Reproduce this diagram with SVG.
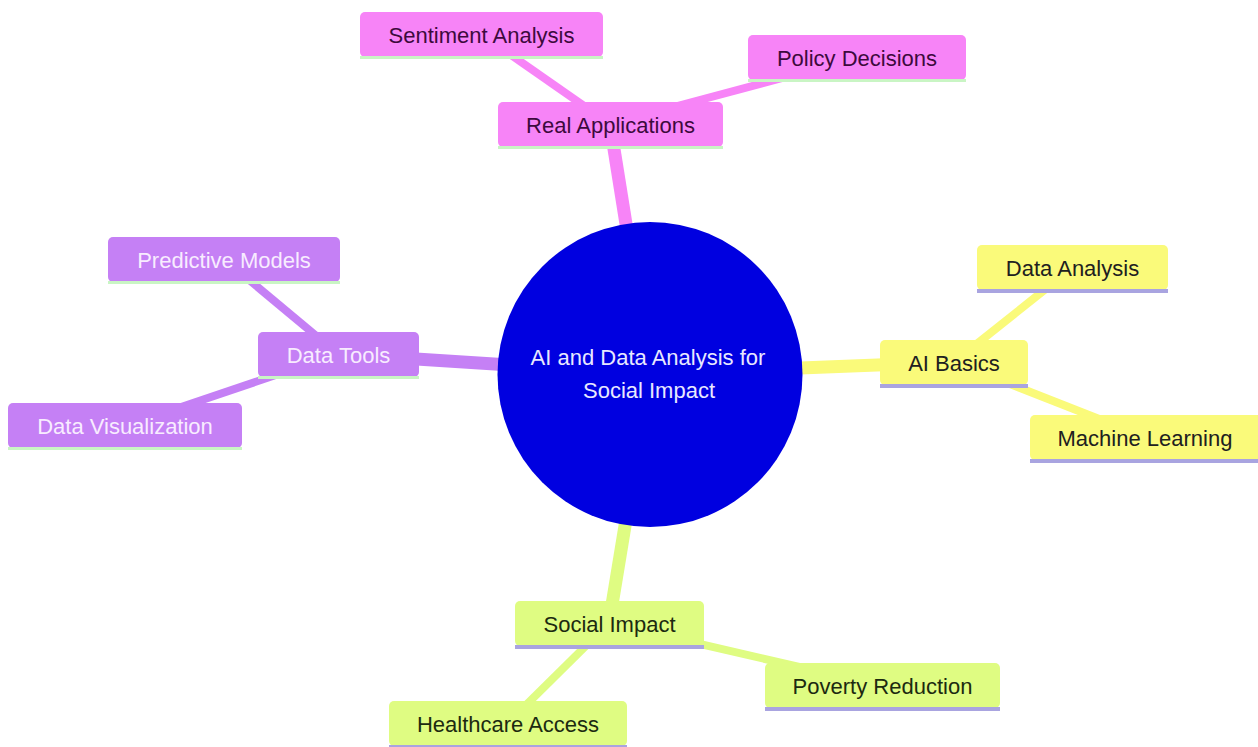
<svg xmlns="http://www.w3.org/2000/svg" width="1258" height="747" viewBox="0 0 1258 747">
<style>
text{font-family:"Liberation Sans",Arial,sans-serif;font-size:22px;text-anchor:middle}
.e1{stroke-width:13;fill:none;stroke-linecap:butt}
.e2{stroke-width:8;fill:none;stroke-linecap:butt}
.pk{stroke:#f784f7}
.pu{stroke:#c580f5}
.ye{stroke:#fafa7a}
.gr{stroke:#dffc82}
.npk{fill:#f784f7}
.npu{fill:#c580f5}
.nye{fill:#fafa7a}
.ngr{fill:#dffc82}
.lg{fill:#c9f5c4}
.ll{fill:#a9a4e0}
.tpk{fill:#3d0a3d}
.tpu{fill:#f8ecff}
.tye{fill:#202020}
.tgr{fill:#1c2a10}
</style>
<rect width="1258" height="747" fill="#ffffff"/>
<g id="connectors">
<line class="e1 pk" x1="650" y1="374" x2="610" y2="124"/>
<line class="e1 pu" x1="650" y1="374" x2="338" y2="354"/>
<line class="e1 ye" x1="650" y1="374" x2="954" y2="362"/>
<line class="e1 gr" x1="650" y1="374" x2="609" y2="623"/>
<line class="e2 pk" x1="610" y1="124" x2="481" y2="34"/>
<line class="e2 pk" x1="610" y1="124" x2="857" y2="58"/>
<line class="e2 pu" x1="338" y1="354" x2="224" y2="259"/>
<line class="e2 pu" x1="338" y1="354" x2="125" y2="426"/>
<line class="e2 ye" x1="954" y1="362" x2="1072" y2="268"/>
<line class="e2 ye" x1="954" y1="362" x2="1145" y2="437"/>
<line class="e2 gr" x1="609" y1="623" x2="882" y2="686"/>
<line class="e2 gr" x1="609" y1="623" x2="508" y2="723"/>
</g>
<g id="root">
<circle cx="650" cy="374.5" r="152.5" fill="#0000e0"/>
<text x="648" y="365" fill="#e8e8ff">AI and Data Analysis for</text>
<text x="649" y="398" fill="#e8e8ff">Social Impact</text>
</g>
<g id="real-applications">
<rect class="npk" x="498" y="102" width="225" height="45" rx="5"/>
<rect class="lg" x="498" y="146" width="225" height="3"/>
<text class="tpk" x="610.5" y="132.5">Real Applications</text>
</g>
<g id="sentiment-analysis">
<rect class="npk" x="360" y="12" width="243" height="45" rx="5"/>
<rect class="lg" x="360" y="56" width="243" height="3"/>
<text class="tpk" x="481.5" y="42.5">Sentiment Analysis</text>
</g>
<g id="policy-decisions">
<rect class="npk" x="748" y="35" width="218" height="45" rx="5"/>
<rect class="lg" x="748" y="79" width="218" height="3"/>
<text class="tpk" x="857" y="66">Policy Decisions</text>
</g>
<g id="data-tools">
<rect class="npu" x="258" y="332" width="161" height="45" rx="5"/>
<rect class="lg" x="258" y="376" width="161" height="3"/>
<text class="tpu" x="338.5" y="362.5">Data Tools</text>
</g>
<g id="predictive-models">
<rect class="npu" x="108" y="237" width="232" height="45" rx="5"/>
<rect class="lg" x="108" y="281" width="232" height="3"/>
<text class="tpu" x="224" y="267.5">Predictive Models</text>
</g>
<g id="data-visualization">
<rect class="npu" x="8" y="403" width="234" height="45" rx="5"/>
<rect class="lg" x="8" y="447" width="234" height="3"/>
<text class="tpu" x="125" y="433.5">Data Visualization</text>
</g>
<g id="ai-basics">
<rect class="nye" x="880" y="340" width="148" height="45" rx="5"/>
<rect class="ll" x="880" y="384" width="148" height="4"/>
<text class="tye" x="954" y="370.5">AI Basics</text>
</g>
<g id="data-analysis">
<rect class="nye" x="977" y="245" width="191" height="45" rx="5"/>
<rect class="ll" x="977" y="289" width="191" height="4"/>
<text class="tye" x="1072.5" y="275.5">Data Analysis</text>
</g>
<g id="machine-learning">
<rect class="nye" x="1030" y="415" width="232" height="45" rx="5"/>
<rect class="ll" x="1030" y="459" width="232" height="4"/>
<text class="tye" x="1145" y="445.5">Machine Learning</text>
</g>
<g id="social-impact">
<rect class="ngr" x="515" y="601" width="189" height="45" rx="5"/>
<rect class="ll" x="515" y="645" width="189" height="4"/>
<text class="tgr" x="609.5" y="631.5">Social Impact</text>
</g>
<g id="poverty-reduction">
<rect class="ngr" x="765" y="663" width="235" height="45" rx="5"/>
<rect class="ll" x="765" y="707" width="235" height="4"/>
<text class="tgr" x="882.5" y="693.5">Poverty Reduction</text>
</g>
<g id="healthcare-access">
<rect class="ngr" x="389" y="701" width="238" height="45" rx="5"/>
<rect class="ll" x="389" y="745" width="238" height="3"/>
<text class="tgr" x="508" y="731.5">Healthcare Access</text>
</g>
</svg>
